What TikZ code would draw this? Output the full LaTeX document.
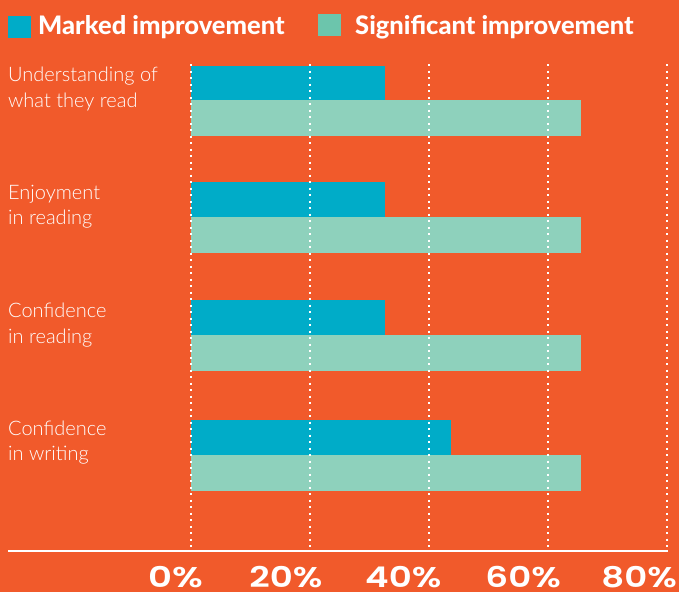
\documentclass[tikz,border=0pt]{standalone}
\usepackage{fontspec}
\setmainfont{Lato}
\newfontfamily\lightf{Lato Light}
\newfontfamily\boldf{Lato}[UprightFont=* Heavy]
\newfontfamily\numf{Poppins}[UprightFont=* SemiBold]
\definecolor{bgor}{RGB}{241,90,43}
\definecolor{barblue}{RGB}{0,172,200}
\definecolor{bargreen}{RGB}{142,209,188}
\definecolor{leggreen}{RGB}{108,197,172}
\tikzset{
  legsq/.style={minimum width=23pt,minimum height=22pt,inner sep=0pt,outer sep=0pt},
  legtext/.style={anchor=base west,inner sep=0pt,text=white,font=\boldf\fontsize{25.5}{28}\selectfont},
  cattext/.style={anchor=base west,inner sep=0pt,text=white,font=\lightf\fontsize{20}{26}\selectfont},
  pcttext/.style={anchor=base east,inner sep=0pt,text depth=0pt,text=white,font=\numf\fontsize{28.5}{30}\selectfont},
  gridl/.style={white,line width=2pt,dash pattern=on 2pt off 4.5pt},
  axisl/.style={white,line width=2.5pt},
  blueb/.style={fill=barblue},
  greenb/.style={fill=bargreen}
}
\begin{document}
\begin{tikzpicture}[x=1pt,y=-1pt]
\fill[bgor] (0,0) rectangle (679,592);
\useasboundingbox (0,0) rectangle (679,592);
% legend
\node[legsq,fill=barblue,anchor=north west] (lb) at (8,15.5) {};
\node[legtext] (lbt) at (38,34.3) {Marked improvement};
\node[legsq,fill=leggreen,anchor=north west] (lg) at (318,14) {};
\node[legtext] (lgt) at (355,34.3) {Significant improvement};
% bars
\fill[blueb] (191,65.5) rectangle (385,100);
\fill[greenb] (191,100) rectangle (581,136);
\fill[blueb] (191,182) rectangle (385,217);
\fill[greenb] (191,217) rectangle (581,252.5);
\fill[blueb] (191,299.5) rectangle (385,335);
\fill[greenb] (191,335) rectangle (581,370.5);
\fill[blueb] (191,420) rectangle (451,455);
\fill[greenb] (191,455) rectangle (581,491);
% gridlines
\foreach \gx/\nm in {190.5/g0,309.5/g1,429/g2,548/g3,667/g4}{
  \coordinate (\nm t) at (\gx,64);
  \coordinate (\nm b) at (\gx,547);
  \draw[gridl] (\nm t) -- (\nm b);
}
% axis
\coordinate (axl) at (8,551);
\coordinate (axr) at (668,551);
\draw[axisl] (axl) -- (axr);
% category labels
\node[cattext] (c1a) at (8,81) {Understanding of};
\node[cattext] (c1b) at (8,107) {what they read};
\node[cattext] (c2a) at (8,199.3) {Enjoyment};
\node[cattext] (c2b) at (8,224.8) {in reading};
\node[cattext] (c3a) at (8,317.7) {Confidence};
\node[cattext] (c3b) at (8,343.3) {in reading};
\node[cattext] (c4a) at (8,435) {Confidence};
\node[cattext] (c4b) at (8,460.5) {in writing};
% percent labels
\node[pcttext] (p0) at (203,587.5) {\scalebox{1.3}[1]{0\%}};
\node[pcttext] (p1) at (322.5,587.5) {\scalebox{1.25}[1]{20\%}};
\node[pcttext] (p2) at (441.5,587.5) {\scalebox{1.25}[1]{40\%}};
\node[pcttext] (p3) at (561,587.5) {\scalebox{1.25}[1]{60\%}};
\node[pcttext] (p4) at (677,587.5) {\scalebox{1.25}[1]{80\%}};
\end{tikzpicture}
\end{document}
